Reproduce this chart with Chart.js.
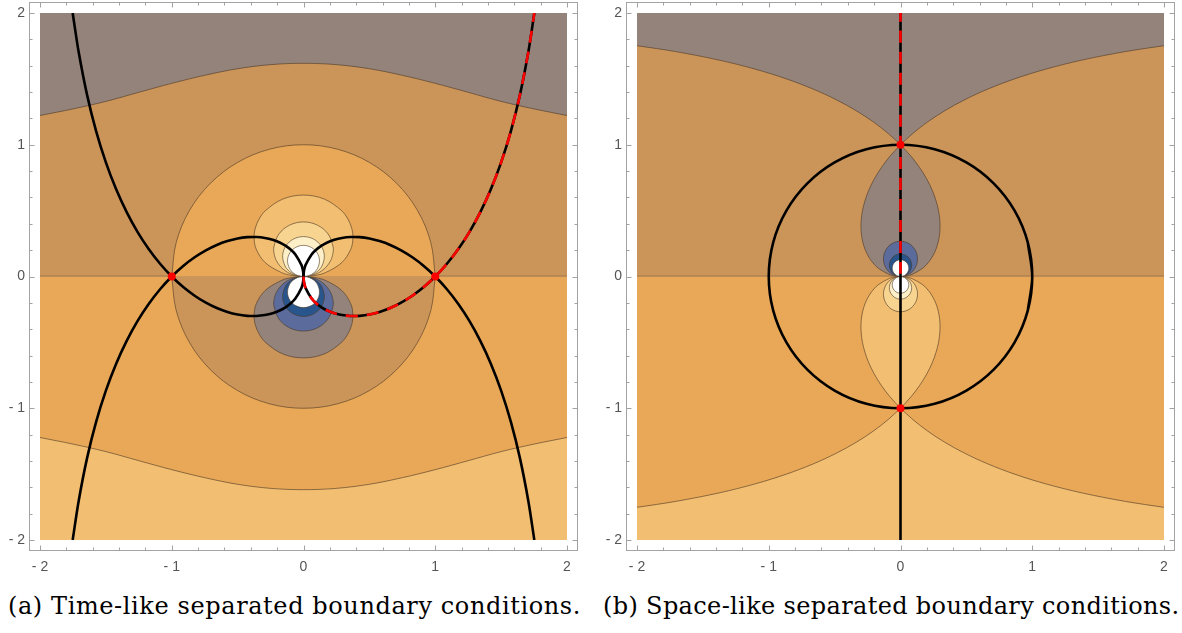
<!DOCTYPE html>
<html>
<head>
<meta charset="utf-8">
<script src="https://cdn.jsdelivr.net/npm/chart.js@4.4.1/dist/chart.umd.min.js"></script>
<style>
  body { margin: 0; background: #fff; width: 1182px; height: 633px; position: relative; overflow: hidden; }
  .box { position: absolute; top: 0; width: 591px; height: 580px; }
  .cap { position: absolute; top: 594px; font-family: 'DejaVu Serif', serif; font-size: 24px; line-height: 1; white-space: nowrap; color: #000; }
</style>
</head>
<body>
<div class="box" style="left:0"><canvas id="timeLike"></canvas></div>
<div class="box" style="left:591px"><canvas id="spaceLike"></canvas></div>
<div class="cap" style="left:8px; letter-spacing:0.6px">(a) Time-like separated boundary conditions.</div>
<div class="cap" style="left:603px; letter-spacing:0.35px">(b) Space-like separated boundary conditions.</div>
<script>
// tick marks / labels
const majorTicks = [-2, -1, 0, 1, 2];
const minorTicks = [-1.8, -1.6, -1.4, -1.2, -0.8, -0.6, -0.4, -0.2, 0.2, 0.4, 0.6, 0.8, 1.2, 1.4, 1.6, 1.8];

// ---- (a) time-like: contour lines ----
const waveX = [-2, -1.75, -1.5, -1.25, -1, -0.75, -0.5, -0.25, 0, 0.25, 0.5, 0.75, 1, 1.25, 1.5, 1.75, 2];
const waveUpperY = [1.222, 1.272, 1.329, 1.398, 1.466, 1.527, 1.577, 1.608, 1.618, 1.608, 1.577, 1.527, 1.466, 1.398, 1.329, 1.272, 1.222];
const waveLowerY = [-1.222, -1.272, -1.329, -1.398, -1.466, -1.527, -1.577, -1.608, -1.618, -1.608, -1.577, -1.527, -1.466, -1.398, -1.329, -1.272, -1.222];

const zeroLine = [[-2, 0], [2, 0]];
const circleUpper = [[1,0],[0.966,0.259],[0.866,0.5],[0.707,0.707],[0.5,0.866],[0.259,0.966],[0,1],[-0.259,0.966],[-0.5,0.866],[-0.707,0.707],[-0.866,0.5],[-0.966,0.259],[-1,0]];
const circleLower = [[1,0],[0.966,-0.259],[0.866,-0.5],[0.707,-0.707],[0.5,-0.866],[0.259,-0.966],[0,-1],[-0.259,-0.966],[-0.5,-0.866],[-0.707,-0.707],[-0.866,-0.5],[-0.966,-0.259],[-1,0]];

const lobeUp1 = [[0,0],[0.0862,0.0075],[0.1661,0.0293],[0.2906,0.1058],[0.3587,0.2071],[0.3752,0.2931],[0.366,0.366],[0.3385,0.4332],[0.2887,0.5],[0.1575,0.5877],[0,0.618],[-0.1575,0.5877],[-0.2887,0.5],[-0.3385,0.4332],[-0.366,0.366],[-0.3752,0.2931],[-0.3587,0.2071],[-0.2906,0.1058],[-0.1661,0.0293],[-0.0862,0.0075],[0,0]];
const lobeUp2 = [[0,0],[0.0849,0.015],[0.1563,0.0569],[0.2045,0.118],[0.2231,0.1743],[0.2247,0.2247],[0.1864,0.3229],[0.1046,0.3903],[0,0.4142],[-0.1046,0.3903],[-0.1864,0.3229],[-0.2247,0.2247],[-0.2231,0.1743],[-0.2045,0.118],[-0.1563,0.0569],[-0.0849,0.015],[0,0]];
const lobeUp3 = [[0,0],[0.0568,0.01],[0.1058,0.0385],[0.1405,0.0811],[0.1583,0.1583],[0.134,0.232],[0.0761,0.2841],[0,0.3028],[-0.0761,0.2841],[-0.134,0.232],[-0.1583,0.1583],[-0.1405,0.0811],[-0.1058,0.0385],[-0.0568,0.01],[0,0]];
const lobeUp4 = [[0,0],[0.0427,0.0075],[0.0798,0.029],[0.1066,0.0616],[0.1213,0.1213],[0.1036,0.1794],[0.0592,0.221],[0,0.2361],[-0.0592,0.221],[-0.1036,0.1794],[-0.1213,0.1213],[-0.1066,0.0616],[-0.0798,0.029],[-0.0427,0.0075],[0,0]];
const lobeDn1 = [[0,0],[0.0862,-0.0075],[0.1661,-0.0293],[0.2906,-0.1058],[0.3587,-0.2071],[0.3752,-0.2931],[0.366,-0.366],[0.3385,-0.4332],[0.2887,-0.5],[0.1575,-0.5877],[0,-0.618],[-0.1575,-0.5877],[-0.2887,-0.5],[-0.3385,-0.4332],[-0.366,-0.366],[-0.3752,-0.2931],[-0.3587,-0.2071],[-0.2906,-0.1058],[-0.1661,-0.0293],[-0.0862,-0.0075],[0,0]];
const lobeDn2 = [[0,0],[0.0849,-0.015],[0.1563,-0.0569],[0.2045,-0.118],[0.2231,-0.1743],[0.2247,-0.2247],[0.1864,-0.3229],[0.1046,-0.3903],[0,-0.4142],[-0.1046,-0.3903],[-0.1864,-0.3229],[-0.2247,-0.2247],[-0.2231,-0.1743],[-0.2045,-0.118],[-0.1563,-0.0569],[-0.0849,-0.015],[0,0]];
const lobeDn3 = [[0,0],[0.0568,-0.01],[0.1058,-0.0385],[0.1405,-0.0811],[0.1583,-0.1583],[0.134,-0.232],[0.0761,-0.2841],[0,-0.3028],[-0.0761,-0.2841],[-0.134,-0.232],[-0.1583,-0.1583],[-0.1405,-0.0811],[-0.1058,-0.0385],[-0.0568,-0.01],[0,0]];
const lobeDn4 = [[0,0],[0.0427,-0.0075],[0.0798,-0.029],[0.1066,-0.0616],[0.1213,-0.1213],[0.1036,-0.1794],[0.0592,-0.221],[0,-0.2361],[-0.0592,-0.221],[-0.1036,-0.1794],[-0.1213,-0.1213],[-0.1066,-0.0616],[-0.0798,-0.029],[-0.0427,-0.0075],[0,0]];

// thimbles through the saddles at (+-1, 0)
const pathRightUp = [[0,0],[0.0038,-0.0435],[0.0152,-0.0862],[0.0603,-0.1657],[0.0937,-0.2009],[0.134,-0.232],[0.1808,-0.2583],[0.234,-0.2788],[0.2929,-0.2929],[0.3572,-0.2997],[0.4265,-0.2986],[0.5,-0.2887],[0.5773,-0.2692],[0.658,-0.2395],[0.7411,-0.1986],[0.8262,-0.1457],[0.9129,-0.0799],[1,0],[1.087,0.0951],[1.1738,0.207],[1.259,0.3373],[1.3421,0.4885],[1.4227,0.6634],[1.5,0.866],[1.5736,1.1018],[1.6428,1.3785],[1.7071,1.7071],[1.752,2]];
const pathRightDn = [[0,0],[0.0038,0.0435],[0.0152,0.0862],[0.0603,0.1657],[0.0937,0.2009],[0.134,0.232],[0.1808,0.2583],[0.234,0.2788],[0.2929,0.2929],[0.3572,0.2997],[0.4265,0.2986],[0.5,0.2887],[0.5773,0.2692],[0.658,0.2395],[0.7411,0.1986],[0.8262,0.1457],[0.9129,0.0799],[1,0],[1.087,-0.0951],[1.1738,-0.207],[1.259,-0.3373],[1.3421,-0.4885],[1.4227,-0.6634],[1.5,-0.866],[1.5736,-1.1018],[1.6428,-1.3785],[1.7071,-1.7071],[1.752,-2]];
const pathLeftUp = [[0,0],[-0.0038,-0.0435],[-0.0152,-0.0862],[-0.0603,-0.1657],[-0.0937,-0.2009],[-0.134,-0.232],[-0.1808,-0.2583],[-0.234,-0.2788],[-0.2929,-0.2929],[-0.3572,-0.2997],[-0.4265,-0.2986],[-0.5,-0.2887],[-0.5773,-0.2692],[-0.658,-0.2395],[-0.7411,-0.1986],[-0.8262,-0.1457],[-0.9129,-0.0799],[-1,0],[-1.087,0.0951],[-1.1738,0.207],[-1.259,0.3373],[-1.3421,0.4885],[-1.4227,0.6634],[-1.5,0.866],[-1.5736,1.1018],[-1.6428,1.3785],[-1.7071,1.7071],[-1.752,2]];
const pathLeftDn = [[0,0],[-0.0038,0.0435],[-0.0152,0.0862],[-0.0603,0.1657],[-0.0937,0.2009],[-0.134,0.232],[-0.1808,0.2583],[-0.234,0.2788],[-0.2929,0.2929],[-0.3572,0.2997],[-0.4265,0.2986],[-0.5,0.2887],[-0.5773,0.2692],[-0.658,0.2395],[-0.7411,0.1986],[-0.8262,0.1457],[-0.9129,0.0799],[-1,0],[-1.087,-0.0951],[-1.1738,-0.207],[-1.259,-0.3373],[-1.3421,-0.4885],[-1.4227,-0.6634],[-1.5,-0.866],[-1.5736,-1.1018],[-1.6428,-1.3785],[-1.7071,-1.7071],[-1.752,-2]];
const saddlesA = [[-1, 0], [1, 0]];

// ---- (b) space-like: right panel ----
const outerUpL = [[-2,1.752],[-1.7071,1.7071],[-1.3785,1.6428],[-1.1018,1.5736],[-0.866,1.5],[-0.6634,1.4227],[-0.4885,1.3421],[-0.3373,1.259],[-0.207,1.1738],[-0.0951,1.087],[0,1]];
const outerUpR = [[0,1],[0.0951,1.087],[0.207,1.1738],[0.3373,1.259],[0.4885,1.3421],[0.6634,1.4227],[0.866,1.5],[1.1018,1.5736],[1.3785,1.6428],[1.7071,1.7071],[2,1.752]];
const outerDnL = [[-2,-1.752],[-1.7071,-1.7071],[-1.3785,-1.6428],[-1.1018,-1.5736],[-0.866,-1.5],[-0.6634,-1.4227],[-0.4885,-1.3421],[-0.3373,-1.259],[-0.207,-1.1738],[-0.0951,-1.087],[0,-1]];
const outerDnR = [[0,-1],[0.0951,-1.087],[0.207,-1.1738],[0.3373,-1.259],[0.4885,-1.3421],[0.6634,-1.4227],[0.866,-1.5],[1.1018,-1.5736],[1.3785,-1.6428],[1.7071,-1.7071],[2,-1.752]];
const dropUp = [[0,1],[0.0799,0.9129],[0.1457,0.8262],[0.1986,0.7411],[0.2395,0.658],[0.2692,0.5773],[0.2887,0.5],[0.2986,0.4265],[0.2997,0.3572],[0.2929,0.2929],[0.2788,0.234],[0.2583,0.1808],[0.232,0.134],[0.2009,0.0937],[0.1657,0.0603],[0.0862,0.0152],[0.0435,0.0038],[0,0],[-0.0435,0.0038],[-0.0862,0.0152],[-0.1657,0.0603],[-0.2009,0.0937],[-0.232,0.134],[-0.2583,0.1808],[-0.2788,0.234],[-0.2929,0.2929],[-0.2997,0.3572],[-0.2986,0.4265],[-0.2887,0.5],[-0.2692,0.5773],[-0.2395,0.658],[-0.1986,0.7411],[-0.1457,0.8262],[-0.0799,0.9129],[0,1]];
const dropDn = [[0,-1],[0.0799,-0.9129],[0.1457,-0.8262],[0.1986,-0.7411],[0.2395,-0.658],[0.2692,-0.5773],[0.2887,-0.5],[0.2986,-0.4265],[0.2997,-0.3572],[0.2929,-0.2929],[0.2788,-0.234],[0.2583,-0.1808],[0.232,-0.134],[0.2009,-0.0937],[0.1657,-0.0603],[0.0862,-0.0152],[0.0435,-0.0038],[0,0],[-0.0435,-0.0038],[-0.0862,-0.0152],[-0.1657,-0.0603],[-0.2009,-0.0937],[-0.232,-0.134],[-0.2583,-0.1808],[-0.2788,-0.234],[-0.2929,-0.2929],[-0.2997,-0.3572],[-0.2986,-0.4265],[-0.2887,-0.5],[-0.2692,-0.5773],[-0.2395,-0.658],[-0.1986,-0.7411],[-0.1457,-0.8262],[-0.0799,-0.9129],[0,-1]];
const ringUp2 = [[0,0],[0.0628,0.0168],[0.11,0.0635],[0.1292,0.1292],[0.1139,0.1973],[0.0666,0.2487],[0,0.2679],[-0.0666,0.2487],[-0.1139,0.1973],[-0.1292,0.1292],[-0.11,0.0635],[-0.0628,0.0168],[0,0]];
const ringUp3 = [[0,0],[0.0417,0.0112],[0.0727,0.042],[0.0846,0.0846],[0.0737,0.1277],[0.0428,0.1598],[0,0.1716],[-0.0428,0.1598],[-0.0737,0.1277],[-0.0846,0.0846],[-0.0727,0.042],[-0.0417,0.0112],[0,0]];
const ringUp4 = [[0,0],[0.0313,0.0084],[0.0543,0.0314],[0.063,0.063],[0.0548,0.0949],[0.0317,0.1184],[0,0.127],[-0.0317,0.1184],[-0.0548,0.0949],[-0.063,0.063],[-0.0543,0.0314],[-0.0313,0.0084],[0,0]];
const ringDn2 = [[0,0],[0.0628,-0.0168],[0.11,-0.0635],[0.1292,-0.1292],[0.1139,-0.1973],[0.0666,-0.2487],[0,-0.2679],[-0.0666,-0.2487],[-0.1139,-0.1973],[-0.1292,-0.1292],[-0.11,-0.0635],[-0.0628,-0.0168],[0,0]];
const ringDn3 = [[0,0],[0.0417,-0.0112],[0.0727,-0.042],[0.0846,-0.0846],[0.0737,-0.1277],[0.0428,-0.1598],[0,-0.1716],[-0.0428,-0.1598],[-0.0737,-0.1277],[-0.0846,-0.0846],[-0.0727,-0.042],[-0.0417,-0.0112],[0,0]];
const ringDn4 = [[0,0],[0.0313,-0.0084],[0.0543,-0.0314],[0.063,-0.063],[0.0548,-0.0949],[0.0317,-0.1184],[0,-0.127],[-0.0317,-0.1184],[-0.0548,-0.0949],[-0.063,-0.063],[-0.0543,-0.0314],[-0.0313,-0.0084],[0,0]];
// runs a little past a full turn so the join has no kink
const unitCircle = [[0.966,-0.259],[1,0],[0.966,0.259],[0.866,0.5],[0.707,0.707],[0.5,0.866],[0.259,0.966],[0,1],[-0.259,0.966],[-0.5,0.866],[-0.707,0.707],[-0.866,0.5],[-0.966,0.259],[-1,0],[-0.966,-0.259],[-0.866,-0.5],[-0.707,-0.707],[-0.5,-0.866],[-0.259,-0.966],[0,-1],[0.259,-0.966],[0.5,-0.866],[0.707,-0.707],[0.866,-0.5],[0.966,-0.259],[1,0],[0.966,0.259]];
const axisLine = [[0,-2],[0,2]];
const axisDashed = [[0,0.02],[0,2]];
const saddlesB = [[0, 1], [0, -1]];

// colours
const GRAY = '#94837b', BROWN = '#cb955a', ORANGE = '#e9a857', LIGHT = '#f2be72',
      LIGHTER = '#f8d491', CREAM = '#fdf0c8', BLUE = '#5a6b9c', DARKBLUE = '#28558c', WHITE = '#ffffff';
const CONTOUR = 'rgba(75,55,35,0.6)';
const LABEL = '#555555';
const RED_DASH = [12, 9];

const toXY = arr => arr.map(([x, y]) => ({x, y}));

function region(points, fill, color, edge = 1) {
  return {
    data: toXY(points), fill: fill, backgroundColor: color,
    borderColor: edge ? CONTOUR : 'transparent', borderWidth: edge,
    pointRadius: 0, tension: 0.35, clip: 0
  };
}
function curve(points, color, width, dash) {
  return {
    data: toXY(points), fill: false, borderColor: color, borderWidth: width,
    borderDash: dash || [], pointRadius: 0, tension: 0.3, clip: 0
  };
}
function dots(points) {
  return {
    data: toXY(points), showLine: false, pointRadius: 4,
    pointBackgroundColor: '#ff0000', pointBorderWidth: 0, clip: 5
  };
}

// Mathematica-like frame with inward ticks, drawn 10.5px outside the data area
const framePlugin = {
  id: 'frame',
  afterDraw(chart) {
    const {ctx, chartArea: a, scales: {x, y}} = chart;
    const pad = 10.5;
    const L = a.left - pad, R = a.right + pad, T = a.top - pad, B = a.bottom + pad;
    ctx.save();
    ctx.strokeStyle = '#a3a3a3';
    ctx.lineWidth = 1;
    ctx.strokeRect(L, T, R - L, B - T);
    ctx.beginPath();
    const mark = (v, len) => {
      const px = Math.round(x.getPixelForValue(v)) + 0.5;
      const py = Math.round(y.getPixelForValue(v)) + 0.5;
      ctx.moveTo(px, B); ctx.lineTo(px, B - len);
      ctx.moveTo(px, T); ctx.lineTo(px, T + len);
      ctx.moveTo(L, py); ctx.lineTo(L + len, py);
      ctx.moveTo(R, py); ctx.lineTo(R - len, py);
    };
    majorTicks.forEach(v => mark(v, 5));
    minorTicks.forEach(v => mark(v, 3));
    ctx.stroke();
    ctx.restore();
  }
};

const fmt = v => (v < 0 ? '- ' + (-v) : String(v));

// keep the plot area exactly where the layout puts it (no label overflow padding)
function noOverflow(s) {
  s.paddingTop = 0; s.paddingBottom = 0; s.paddingLeft = 0; s.paddingRight = 0;
}

function makeChart(id, datasets, yWidth, padRight) {
  datasets.forEach((d, i) => { d.order = datasets.length - i; });
  const axis = (extra) => Object.assign({
    type: 'linear', min: -2, max: 2,
    grid: {display: false, drawTicks: false},
    border: {display: false},
    afterBuildTicks: s => { s.ticks = majorTicks.map(v => ({value: v})); }
  }, extra);
  return new Chart(document.getElementById(id), {
    type: 'line',
    data: {datasets: datasets},
    options: {
      responsive: true,
      maintainAspectRatio: false,
      animation: false,
      events: [],
      layout: {padding: {left: 0, right: padRight, top: 13, bottom: 0}},
      plugins: {legend: {display: false}, tooltip: {enabled: false}},
      scales: {
        x: axis({
          afterFit: s => { s.height = 40; noOverflow(s); },
          ticks: {padding: 19, color: LABEL, font: {family: 'Liberation Sans', size: 14}, callback: fmt, maxRotation: 0, autoSkip: false}
        }),
        y: axis({
          afterFit: s => { s.width = yWidth; noOverflow(s); },
          ticks: {padding: 15, color: LABEL, font: {family: 'Liberation Sans', size: 14}, callback: fmt, autoSkip: false}
        })
      }
    },
    plugins: [framePlugin]
  });
}

// painter's order: first entry at the bottom
makeChart('timeLike', [
  region(zeroLine, 'end', BROWN, 1.3),
  region(zeroLine, 'start', ORANGE, 0),
  region(waveX.map((x, i) => [x, waveUpperY[i]]), 'end', GRAY),
  region(waveX.map((x, i) => [x, waveLowerY[i]]), 'start', LIGHT),
  region(circleUpper, 'shape', ORANGE),
  region(circleLower, 'shape', BROWN),
  region(lobeUp1, 'shape', LIGHT),
  region(lobeUp2, 'shape', LIGHTER),
  region(lobeUp3, 'shape', CREAM),
  region(lobeUp4, 'shape', WHITE),
  region(lobeDn1, 'shape', GRAY),
  region(lobeDn2, 'shape', BLUE),
  region(lobeDn3, 'shape', DARKBLUE),
  region(lobeDn4, 'shape', WHITE),
  curve(pathRightDn, '#000', 2.6),
  curve(pathLeftUp, '#000', 2.6),
  curve(pathLeftDn, '#000', 2.6),
  curve(pathRightUp, '#000', 2.6),
  curve(pathRightUp, '#ff0000', 2.6, RED_DASH),
  dots(saddlesA)
], 40, 24);

makeChart('spaceLike', [
  region(zeroLine, 'end', BROWN, 1.3),
  region(zeroLine, 'start', ORANGE, 0),
  region(outerUpL, 'end', GRAY),
  region(outerUpR, 'end', GRAY),
  region(outerDnL, 'start', LIGHT),
  region(outerDnR, 'start', LIGHT),
  region(dropUp, 'shape', GRAY),
  region(dropDn, 'shape', LIGHT),
  region(ringUp2, 'shape', BLUE),
  region(ringUp3, 'shape', DARKBLUE),
  region(ringUp4, 'shape', WHITE),
  region(ringDn2, 'shape', LIGHTER),
  region(ringDn3, 'shape', CREAM),
  region(ringDn4, 'shape', WHITE),
  curve(unitCircle, '#000', 2.6),
  curve(axisLine, '#000', 2.6),
  curve(axisDashed, '#ff0000', 2.6, RED_DASH),
  dots(saddlesB)
], 46, 18);
</script>
</body>
</html>
